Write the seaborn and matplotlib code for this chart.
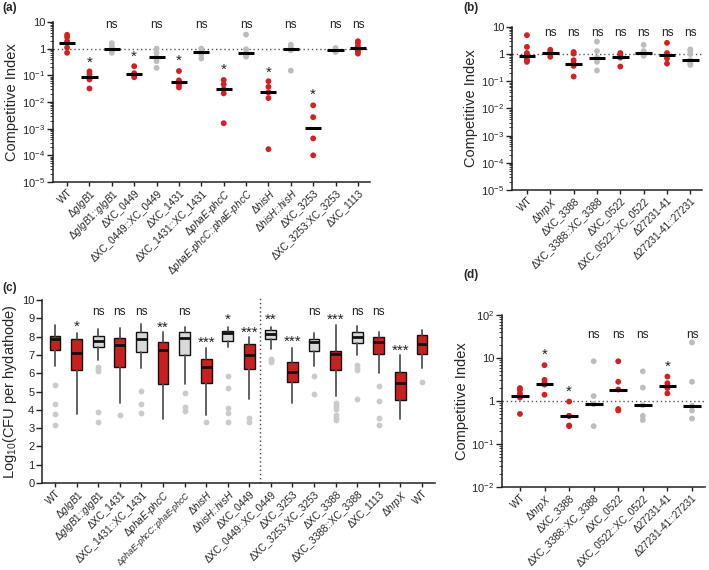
import numpy as np
import pandas as pd
import matplotlib
matplotlib.use('Agg')
import matplotlib.pyplot as plt
import seaborn as sns
from matplotlib.ticker import LogLocator, NullFormatter, FixedLocator

sns.set_theme(style='ticks')
plt.rcParams['font.family'] = ['Liberation Sans', 'DejaVu Sans']
plt.rcParams['mathtext.fontset'] = 'custom'
plt.rcParams['mathtext.rm'] = 'Liberation Sans'
plt.rcParams['mathtext.it'] = 'Liberation Sans:italic'
plt.rcParams['mathtext.bf'] = 'Liberation Sans:bold'

RED = '#d42020'
GREY = '#bdbdbd'
BOX_RED = '#c8201f'
BOX_GREY = '#d9d9d9'

# ---------------- Panel (a) ----------------
a_labels = ['WT', r'Δ$\it{glgB1}$', r'Δ$\it{glgB1}$::$\it{glgB1}$', 'ΔXC_0449', 'ΔXC_0449::XC_0449',
            'ΔXC_1431', 'ΔXC_1431::XC_1431', r'Δ$\it{phaE}$-$\it{phcC}$',
            r'Δ$\it{phaE}$-$\it{phcC}$::$\it{phaE}$-$\it{phcC}$', r'Δ$\it{hisH}$',
            r'Δ$\it{hisH}$::$\it{hisH}$', 'ΔXC_3253', 'ΔXC_3253:XC_3253', 'ΔXC_1113']
a_groups = ['mut', 'mut', 'comp', 'mut', 'comp', 'mut', 'comp', 'mut', 'comp', 'mut', 'comp', 'mut', 'comp', 'mut']
a_points = [[3.3, 2.7, 1.9, 1.1, 0.7],
            [0.14, 0.11, 0.085, 0.07, 0.032],
            [1.6, 1.2, 1.0, 0.85, 0.7],
            [0.22, 0.12, 0.11, 0.1, 0.085],
            [1.0, 0.7, 0.49, 0.34, 0.19],
            [0.145, 0.065, 0.055, 0.045, 0.035],
            [1.0, 0.82, 0.7, 0.6, 0.43],
            [0.067, 0.046, 0.03, 0.021, 0.0016],
            [3.4, 0.95, 0.7, 0.6, 0.5],
            [0.06, 0.037, 0.023, 0.014, 1.7e-4],
            [1.4, 1.1, 1.0, 0.87, 0.15],
            [0.0075, 0.0027, 4.3e-4, 1.0e-4],
            [1.05, 0.9, 0.85, 0.75],
            [1.9, 1.6, 1.25, 0.9, 0.8, 0.65]]
a_medians = [1.7, 0.085, 1.0, 0.11, 0.48, 0.055, 0.72, 0.032, 0.7, 0.023, 1.0, 0.0011, 0.88, 1.1]
a_annot = ['', '*', 'ns', '*', 'ns', '*', 'ns', '*', 'ns', '*', 'ns', '*', 'ns', 'ns']
a_annot_y = [None, 0.3, 7.7, 0.49, 7.7, 0.34, 7.7, 0.155, 7.7, 0.13, 7.7, 0.018, 7.7, 7.7]

# ---------------- Panel (b) ----------------
bd_labels = ['WT', r'Δ$\it{hrpX}$', 'ΔXC_3388', 'ΔXC_3388::XC_3388', 'ΔXC_0522',
             'ΔXC_0522::XC_0522', 'Δ27231-41', 'Δ27231-41::27231']
bd_groups = ['mut', 'mut', 'mut', 'comp', 'mut', 'comp', 'mut', 'comp']
b_points = [[5.0, 1.85, 1.1, 0.95, 0.75, 0.6, 0.52],
            [1.45, 1.2, 1.1, 1.0, 0.8],
            [1.2, 1.05, 0.6, 0.45, 0.37, 0.15],
            [2.9, 1.3, 0.75, 0.52, 0.25],
            [1.1, 0.95, 0.8, 0.75, 0.35],
            [2.2, 1.3, 1.15, 1.0, 0.87],
            [2.6, 1.1, 0.9, 0.7, 0.45],
            [1.5, 1.3, 1.0, 0.6, 0.5, 0.45, 0.4]]
b_medians = [0.87, 1.12, 0.43, 0.75, 0.8, 1.15, 0.95, 0.6]
b_annot = ['', 'ns', 'ns', 'ns', 'ns', 'ns', 'ns', 'ns']
b_annot_y = [None] + [6.2] * 7

# ---------------- Panel (d) ----------------
d_points = [[2.0, 1.8, 1.5, 1.2, 0.5],
            [6.8, 3.1, 2.7, 2.4, 1.4],
            [0.97, 0.45, 0.45, 0.27, 0.26],
            [8.4, 1.3, 0.85, 0.85, 0.26],
            [8.4, 2.8, 1.85, 0.65, 0.6],
            [4.9, 2.05, 0.8, 0.45, 0.36],
            [3.7, 2.6, 2.25, 2.0, 1.5],
            [23.0, 2.8, 0.77, 0.6, 0.39]]
d_medians = [1.3, 2.45, 0.45, 0.86, 1.85, 0.8, 2.25, 0.77]
d_annot = ['', '*', '*', 'ns', 'ns', 'ns', '*', 'ns']
d_annot_y = [None, 12.0, 1.6, 34.0, 34.0, 34.0, 6.3, 34.0]

# ---------------- Panel (c) ----------------
c_labels = ['WT', r'Δ$\it{glgB1}$', r'Δ$\it{glgB1}$::$\it{glgB1}$', 'ΔXC_1431', 'ΔXC_1431::XC_1431',
            r'Δ$\it{phaE}$-$\it{phcC}$', r'Δ$\it{phaE}$-$\it{phcC}$::$\it{phaE}$-$\it{phcC}$',
            r'Δ$\it{hisH}$', r'Δ$\it{hisH}$::$\it{hisH}$', 'ΔXC_0449', 'ΔXC_0449::XC_0449',
            'ΔXC_3253', 'ΔXC_3253:XC_3253', 'ΔXC_3388', 'ΔXC_3388::XC_3388', 'ΔXC_1113',
            r'Δ$\it{hrpX}$', 'WT']
c_groups = ['mut', 'mut', 'comp', 'mut', 'comp', 'mut', 'comp', 'mut', 'comp', 'mut', 'comp',
            'mut', 'comp', 'mut', 'comp', 'mut', 'mut', 'mut']
c_whishi = [8.64, 8.22, 8.40, 8.45, 8.69, 8.24, 8.55, 7.36, 8.55, 7.96, 8.55, 7.40, 8.18, 8.64, 8.58, 8.27, 7.00, 8.36]
c_q3 = [8.04, 7.87, 8.05, 7.95, 8.24, 7.73, 8.27, 6.76, 8.33, 7.58, 8.36, 6.60, 7.87, 7.24, 8.27, 7.96, 6.04, 8.09]
c_med = [7.85, 7.09, 7.76, 7.55, 7.87, 7.27, 7.95, 6.36, 8.18, 7.00, 8.13, 6.09, 7.69, 7.05, 8.00, 7.69, 5.45, 7.58]
c_q1 = [7.27, 6.15, 7.45, 6.36, 7.18, 5.40, 7.00, 5.49, 7.76, 6.22, 7.85, 5.50, 7.22, 6.18, 7.64, 7.05, 4.55, 7.05]
c_whislo = [6.42, 3.76, 6.70, 4.36, 6.27, 3.50, 5.40, 3.69, 7.45, 4.58, 7.30, 4.36, 6.42, 4.78, 7.00, 6.00, 3.50, 6.27]
c_fliers = [[5.36, 4.33, 3.76, 3.18], [], [6.35, 6.25, 6.1, 3.9, 3.35], [3.73], [5.05, 4.33, 3.85], [],
            [4.9, 4.15, 3.95], [3.36], [5.82, 5.18, 4.09, 3.85, 3.36], [3.55, 3.36], [6.8, 6.7, 6.6], [],
            [5.85, 4.85], [4.36, 4.22, 4.04, 3.73, 3.55, 3.42], [6.45, 6.3, 6.15, 4.6],
            [5.3, 4.5, 3.55, 3.18], [], [5.5]]
c_annot = ['', '*', 'ns', 'ns', 'ns', '**', 'ns', '***', '*', '***', '**', '***', 'ns', '***', 'ns', 'ns', '***', '']
c_annot_y = [None, 8.55, 9.35, 9.35, 9.35, 8.5, 9.35, 7.65, 8.9, 8.2, 8.9, 7.7, 9.35, 8.9, 9.35, 9.35, 7.25, None]

W, H = 709, 570
fig = plt.figure(figsize=(W / 100, H / 100), dpi=100)
XFS = 7.2


def axes_px(l, t, r, b):
    return fig.add_axes([l / W, 1 - b / H, (r - l) / W, (b - t) / H])


def style_axes(ax):
    sns.despine(ax=ax)
    for s in ['left', 'bottom']:
        ax.spines[s].set_linewidth(1.1)
        ax.spines[s].set_color('#222222')
    ax.tick_params(axis='y', which='major', length=4, width=1, color='#222222', labelsize=8, pad=1.5)
    ax.tick_params(axis='y', which='minor', length=2, width=0.6, color='#222222')
    ax.tick_params(axis='x', which='major', length=3, width=1, color='#222222', labelsize=XFS, pad=1)


def annotate(ax, texts, ys, fs_ns=8.5, fs_star=11):
    for i, (t, y) in enumerate(zip(texts, ys)):
        if not t:
            continue
        if t == 'ns':
            ax.text(i, y, t, ha='center', va='center', fontsize=fs_ns, color='#222222')
        else:
            ax.text(i, y, t, ha='center', va='center', fontsize=fs_star, color='#222222')


def dot_panel(ax, labels, groups, points, medians, annot, annot_y, ylim, yticks, yticklabels, xlim):
    keys = [f'k{i}' for i in range(len(labels))]
    rows = []
    for k, g, pts in zip(keys, groups, points):
        for v in pts:
            rows.append({'cat': k, 'val': v, 'grp': g})
    df = pd.DataFrame(rows)
    ax.set_yscale('log')
    ax.axhline(1, color='#555555', lw=1, ls=(0, (1, 2)), zorder=0)
    sns.stripplot(data=df, x='cat', y='val', hue='grp', order=keys, palette={'mut': RED, 'comp': GREY},
                  jitter=False, size=4.2, linewidth=0, legend=False, ax=ax, zorder=2)
    xs = np.arange(len(keys))
    ax.hlines(medians, xs - 0.36, xs + 0.36, color='black', lw=2.2, zorder=3)
    ax.set_ylim(*ylim)
    ax.yaxis.set_major_locator(FixedLocator(yticks))
    ax.set_yticklabels(yticklabels)
    ax.yaxis.set_minor_locator(LogLocator(base=10, subs=np.arange(2, 10), numticks=20))
    ax.yaxis.set_minor_formatter(NullFormatter())
    ax.set_xlim(*xlim)
    ax.set_xticks(xs)
    style_axes(ax)
    ax.set_xticklabels(labels, rotation=45, ha='right', rotation_mode='anchor', fontsize=XFS)
    ax.set_xlabel('')
    ax.set_ylabel('Competitive Index', fontsize=10.5, labelpad=2)
    annotate(ax, annot, annot_y)


log5_ticks = [1e-5, 1e-4, 1e-3, 1e-2, 1e-1, 1, 10]
log5_labels = ['10$^{-5}$', '10$^{-4}$', '10$^{-3}$', '10$^{-2}$', '10$^{-1}$', '1', '10']

ax_a = axes_px(53, 22, 370, 182)
dot_panel(ax_a, a_labels, a_groups, a_points, a_medians, a_annot, a_annot_y,
          (1e-5, 10), log5_ticks, log5_labels, (-0.63, 13.54))

ax_b = axes_px(512, 27, 702, 190)
dot_panel(ax_b, bd_labels, bd_groups, b_points, b_medians, b_annot, b_annot_y,
          (1e-5, 10), log5_ticks, log5_labels, (-0.64, 7.5))

ax_d = axes_px(502, 315, 705, 487)
dot_panel(ax_d, bd_labels, bd_groups, d_points, d_medians, d_annot, d_annot_y,
          (1e-2, 100), [1e-2, 1e-1, 1, 10, 100], ['10$^{-2}$', '10$^{-1}$', '1', '10', '10$^{2}$'],
          (-0.73, 7.53))

# ---- panel (c) boxes ----
ax_c = axes_px(42, 300, 435, 483)
stats = []
for i in range(len(c_labels)):
    stats.append({'med': c_med[i], 'q1': c_q1[i], 'q3': c_q3[i], 'whislo': c_whislo[i],
                  'whishi': c_whishi[i], 'fliers': c_fliers[i]})
bp = ax_c.bxp(stats, positions=np.arange(len(c_labels)), widths=0.5, patch_artist=True, showcaps=False,
              boxprops=dict(edgecolor='#111111', linewidth=1.0),
              medianprops=dict(color='#111111', linewidth=2.0),
              whiskerprops=dict(color='#555555', linewidth=1.3),
              flierprops=dict(marker='o', markerfacecolor='#cbcbcb', markeredgecolor='none', markersize=4.2))
for patch, g in zip(bp['boxes'], c_groups):
    patch.set_facecolor(BOX_RED if g == 'mut' else BOX_GREY)
ax_c.axvline(9.5, ymin=0, ymax=1.02, color='#444444', lw=1, ls=(0, (1, 2)), clip_on=False)
ax_c.set_ylim(0, 10)
ax_c.set_yticks(np.arange(0, 11))
ax_c.set_xlim(-0.6, 17.6)
ax_c.set_xticks(np.arange(len(c_labels)))
style_axes(ax_c)
ax_c.set_xticklabels(c_labels, rotation=45, ha='right', rotation_mode='anchor', fontsize=XFS)
# longest label slightly smaller so it stays inside the figure
ax_c.get_xticklabels()[6].set_fontsize(6.3)
ax_c.set_ylabel('Log$_{10}$(CFU per hydathode)', fontsize=10.5, labelpad=2)
annotate(ax_c, c_annot, c_annot_y)

# panel letters
for lab, x, y in [('(a)', 2, 8), ('(b)', 463, 8), ('(c)', 2, 288), ('(d)', 463, 275)]:
    fig.text(x / W, 1 - y / H, lab, fontsize=8.5, fontweight='bold', ha='left', va='center')

fig.savefig('out.png', dpi=100)
